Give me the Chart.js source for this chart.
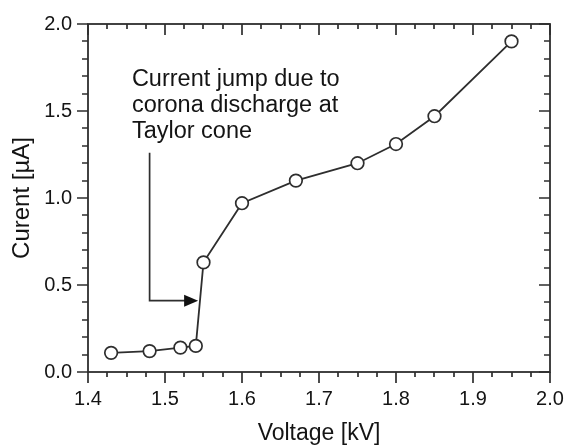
<!DOCTYPE html>
<html>
<head>
<meta charset="utf-8">
<script src="https://cdn.jsdelivr.net/npm/chart.js@4.4.0/dist/chart.umd.min.js"></script>
<style>
  html, body { margin: 0; padding: 0; background: #fff; }
</style>
</head>
<body>
<canvas id="chart" width="567" height="445"></canvas>
<script>
const voltage = [1.43, 1.48, 1.52, 1.54, 1.55, 1.60, 1.67, 1.75, 1.80, 1.85, 1.95];
const current = [0.11, 0.12, 0.14, 0.15, 0.63, 0.97, 1.10, 1.20, 1.31, 1.47, 1.90];
const xTicks = [1.4, 1.5, 1.6, 1.7, 1.8, 1.9, 2.0];
const yTicks = [0.0, 0.5, 1.0, 1.5, 2.0];
const noteLines = ["Current jump due to", "corona discharge at", "Taylor cone"];
const noteAt = [1.457, 1.645];
const arrowPath = [[1.48, 1.26], [1.48, 0.41], [1.543, 0.41]];

const FONT = "'Liberation Sans', Arial, Helvetica, sans-serif";
const INK = "#2e2e2e";
const TEXT = "#141414";

// frame with major/minor ticks on all four sides
const frameTicks = {
    id: "frameTicks",
    afterDraw(chart) {
        const { ctx, chartArea: a, scales: { x, y } } = chart;
        ctx.save();
        ctx.strokeStyle = INK;
        ctx.lineWidth = 1.8;
        ctx.strokeRect(a.left, a.top, a.right - a.left, a.bottom - a.top);
        ctx.beginPath();
        for (let i = 0; i <= 24; i++) {
            const px = Math.round(x.getPixelForValue(1.4 + i * 0.025));
            const len = i % 4 === 0 ? 11 : 5;
            ctx.moveTo(px, a.bottom); ctx.lineTo(px, a.bottom + len);
            ctx.moveTo(px, a.top); ctx.lineTo(px, a.top + len);
        }
        for (let i = 0; i <= 20; i++) {
            const py = Math.round(y.getPixelForValue(i * 0.1));
            const len = i % 5 === 0 ? 11 : 6;
            ctx.moveTo(a.left - len, py); ctx.lineTo(a.left, py);
            ctx.moveTo(a.right - len, py); ctx.lineTo(a.right, py);
        }
        ctx.lineWidth = 1.7;
        ctx.stroke();
        ctx.restore();
    }
};

const note = {
    id: "note",
    afterDraw(chart) {
        const { ctx, scales: { x, y } } = chart;
        ctx.save();
        ctx.fillStyle = TEXT;
        ctx.font = "23.5px " + FONT;
        ctx.textBaseline = "alphabetic";
        const tx = x.getPixelForValue(noteAt[0]);
        const ty = y.getPixelForValue(noteAt[1]);
        noteLines.forEach((t, i) => ctx.fillText(t, tx, ty + i * 26));

        const pts = arrowPath.map(p => [x.getPixelForValue(p[0]), y.getPixelForValue(p[1])]);
        const tip = pts[pts.length - 1];
        ctx.strokeStyle = INK;
        ctx.lineWidth = 1.7;
        ctx.beginPath();
        ctx.moveTo(pts[0][0], pts[0][1]);
        for (let i = 1; i < pts.length - 1; i++) ctx.lineTo(pts[i][0], pts[i][1]);
        ctx.lineTo(tip[0] - 12, tip[1]);
        ctx.stroke();
        ctx.fillStyle = "#111";
        ctx.beginPath();
        ctx.moveTo(tip[0], tip[1]);
        ctx.lineTo(tip[0] - 14, tip[1] - 6);
        ctx.lineTo(tip[0] - 14, tip[1] + 6);
        ctx.closePath();
        ctx.fill();
        ctx.restore();
    }
};

const chart = new Chart(document.getElementById("chart"), {
    type: "scatter",
    data: {
        datasets: [
            {
                label: "Current",
                data: voltage.map((v, i) => ({ x: v, y: current[i] })),
                showLine: true,
                borderColor: INK,
                borderWidth: 1.8,
                pointRadius: 6.3,
                pointHoverRadius: 6.3,
                pointBackgroundColor: "#ffffff",
                pointBorderColor: INK,
                pointBorderWidth: 1.7
            }
        ]
    },
    options: {
        responsive: false,
        animation: false,
        layout: { padding: { top: 24, right: 17, left: 0, bottom: 0 } },
        plugins: {
            legend: { display: false },
            tooltip: { enabled: false }
        },
        scales: {
            x: {
                type: "linear",
                min: 1.4,
                max: 2.0,
                afterBuildTicks: s => { s.ticks = xTicks.map(v => ({ value: v })); },
                afterFit: s => { s.height = 73; s.paddingLeft = 0; s.paddingRight = 0; },
                grid: { display: false, drawTicks: false },
                border: { display: false },
                ticks: {
                    padding: 15,
                    color: TEXT,
                    font: { family: FONT, size: 20 },
                    callback: v => v.toFixed(1)
                },
                title: {
                    display: true,
                    text: "Voltage [kV]",
                    color: TEXT,
                    font: { family: FONT, size: 23, lineHeight: 1 },
                    padding: { top: 0, bottom: 0 }
                }
            },
            y: {
                type: "linear",
                min: 0,
                max: 2.0,
                afterBuildTicks: s => { s.ticks = yTicks.map(v => ({ value: v })); },
                afterFit: s => { s.width = 88; s.paddingTop = 0; s.paddingBottom = 0; },
                grid: { display: false, drawTicks: false },
                border: { display: false },
                ticks: {
                    padding: 16,
                    color: TEXT,
                    font: { family: FONT, size: 20 },
                    callback: v => v.toFixed(1)
                },
                title: {
                    display: true,
                    text: "Curent [µA]",
                    color: TEXT,
                    font: { family: FONT, size: 24, lineHeight: 1 },
                    padding: { top: 10, bottom: 0 }
                }
            }
        }
    },
    plugins: [frameTicks, note]
});
</script>
</body>
</html>
